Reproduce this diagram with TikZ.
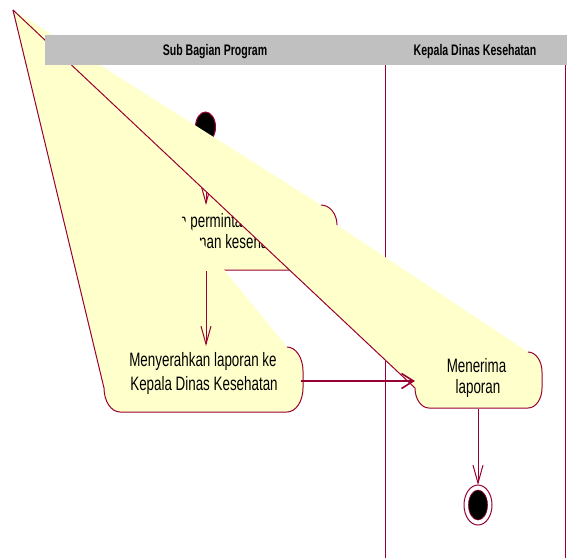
\documentclass[tikz,border=0pt]{standalone}
\usepackage{fontspec}
\setmainfont{Liberation Sans}[FakeStretch=0.69]
\usetikzlibrary{arrows.meta}
\definecolor{rl}{RGB}{153,0,51}
\definecolor{yl}{RGB}{255,255,204}
\definecolor{hd}{RGB}{192,192,192}
\begin{document}
\begin{tikzpicture}[x=1pt,y=-1pt,
  edge/.style={draw=rl,line width=1pt},
  vflow/.style={draw=rl,line width=1pt,-{Straight Barb[length=18pt,width=10pt]}},
  hflow/.style={draw=rl,line width=1.6pt,-{Straight Barb[length=12pt,width=15pt]}},
  lbl/.style={inner sep=0pt,font=\fontsize{19.4}{22}\selectfont,text=black},
  hdr/.style={inner sep=0pt,font=\fontsize{15.3}{18}\selectfont\bfseries,text=black}
]
\useasboundingbox[fill=white] (0,0) rectangle (567,558);
% coordinates
\coordinate (apex) at (13,10);
\coordinate (d1top) at (385,65);
\coordinate (d1bot) at (385,558);
\coordinate (d2top) at (565,65);
\coordinate (d2bot) at (565,558);
\coordinate (s0) at (206,141);
\coordinate (b1t) at (206,205);
\coordinate (b1b) at (206,271);
\coordinate (b2t) at (206,346);
\coordinate (b2r) at (301,381);
\coordinate (b3l) at (415,381);
\coordinate (b3b) at (478,409);
\coordinate (e0) at (478,485);
% swimlane dividers
\draw[edge] (d1top) -- (d1bot);
\draw[edge] (d2top) -- (d2bot);
% start state
\fill[black,draw=rl,line width=1pt] (205.5,127) ellipse [x radius=10pt, y radius=15pt];
% activity 1
\fill[yl] (apex) -- (80,250) .. controls (80,261.04) and (87.17,270) .. (96,270) -- (321,270) .. controls (329.83,270) and (337,261.04) .. (337,250) -- (337,225) .. controls (337,213.96) and (329.83,205) .. (321,205) -- cycle;
\draw[edge] (apex) -- (80,250) .. controls (80,261.04) and (87.17,270) .. (96,270) -- (321,270) .. controls (329.83,270) and (337,261.04) .. (337,250) -- (337,225) .. controls (337,213.96) and (329.83,205) .. (321,205);
\node[lbl,anchor=base west] (t1a) at (82.3,227) {Membuat laporan permintaan};
\node[lbl,anchor=base west] (t1b) at (159.6,248) {pelayanan kesehatan};
\draw[vflow] (s0) -- (b1t);
% activity 2
\fill[yl] (apex) -- (104,388) .. controls (104,401.25) and (111.17,412) .. (120,412) -- (287,412) .. controls (295.83,412) and (303,401.25) .. (303,388) -- (303,371) .. controls (303,357.75) and (295.83,347) .. (287,347) -- cycle;
\draw[edge] (apex) -- (104,388) .. controls (104,401.25) and (111.17,412) .. (120,412) -- (287,412) .. controls (295.83,412) and (303,401.25) .. (303,388) -- (303,371) .. controls (303,357.75) and (295.83,347) .. (287,347);
\node[lbl,anchor=base] (t2a) at (203,366) {Menyerahkan laporan ke};
\node[lbl,anchor=base] (t2b) at (204,390) {Kepala Dinas Kesehatan};
\draw[vflow] (b1b) -- (b2t);
% activity 3
\fill[yl] (apex) -- (415,388) .. controls (415,399.04) and (421.27,408) .. (429,408) -- (528,408) .. controls (535.73,408) and (542,399.04) .. (542,388) -- (542,372) .. controls (542,360.96) and (535.73,352) .. (528,352) -- cycle;
\draw[edge] (apex) -- (415,388) .. controls (415,399.04) and (421.27,408) .. (429,408) -- (528,408) .. controls (535.73,408) and (542,399.04) .. (542,388) -- (542,372) .. controls (542,360.96) and (535.73,352) .. (528,352);
\node[lbl,anchor=base] (t3a) at (476.5,372) {Menerima};
\node[lbl,anchor=base] (t3b) at (478,393) {laporan};
\draw[hflow] (b2r) -- (b3l);
\draw[vflow] (b3b) -- (e0);
% end state
\draw[rl,line width=1pt,fill=white] (478,505) ellipse [x radius=14pt, y radius=20pt];
\fill[black,draw=rl,line width=0.6pt] (478,505) ellipse [x radius=9.5pt, y radius=15pt];
% header
\fill[hd] (45,35) rectangle (567,65);
\node[hdr,anchor=base] (h1) at (215,55) {Sub Bagian Program};
\node[hdr,anchor=base] (h2) at (475,55) {Kepala Dinas Kesehatan};
\end{tikzpicture}
\end{document}
